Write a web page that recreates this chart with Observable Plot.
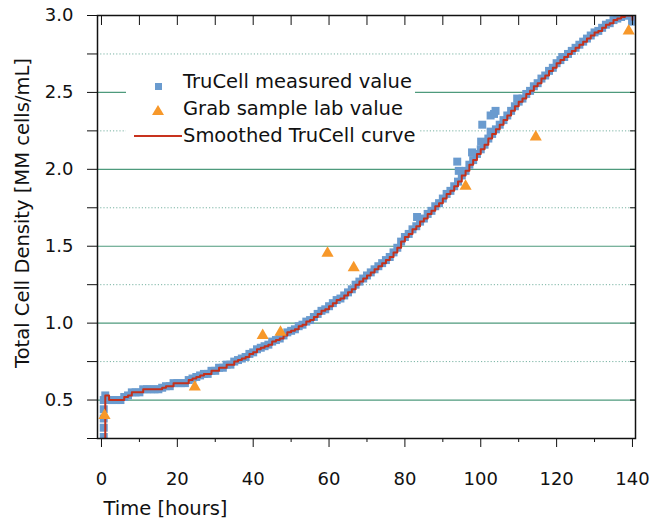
<!DOCTYPE html>
<html>
<head>
<meta charset="utf-8">
<script src="https://cdn.jsdelivr.net/npm/d3@7"></script>
<script src="https://cdn.jsdelivr.net/npm/@observablehq/plot@0.6"></script>
<style>
  html, body { margin: 0; padding: 0; background: #fff; }
  #wrap { position: relative; width: 652px; height: 525px; font-family: "DejaVu Sans", sans-serif; }
  .row { position: absolute; left: 126px; height: 27px; background: #fff; font-size: 19.5px; color: #111; white-space: nowrap; }
  .row .txt { position: absolute; left: 57px; top: 50%; transform: translateY(-50%); padding-right: 3px; background: #fff; }
  .sq { position: absolute; left: 28.5px; width: 7px; height: 7px; background: #6a9bcf; }
  .tri { position: absolute; left: 26px; width: 0; height: 0; border-left: 6px solid transparent; border-right: 6px solid transparent; border-bottom: 10px solid #f7982a; }
  .ln { position: absolute; left: 8px; width: 48px; height: 0; border-top: 2px solid #c8321e; }
</style>
</head>
<body>
<div id="wrap"></div>
<script>
// Smoothed TruCell curve (hourly samples)
const hours = [0.9, 1, 2, 3, 4, 5, 6, 7, 8, 9, 10, 11, 12, 13, 14, 15, 16, 17, 18, 19, 20,
  21, 22, 23, 24, 25, 26, 27, 28, 29, 30, 31, 32, 33, 34, 35, 36, 37, 38, 39, 40,
  41, 42, 43, 44, 45, 46, 47, 48, 49, 50, 51, 52, 53, 54, 55, 56, 57, 58, 59, 60,
  61, 62, 63, 64, 65, 66, 67, 68, 69, 70, 71, 72, 73, 74, 75, 76, 77, 78, 79, 80,
  81, 82, 83, 84, 85, 86, 87, 88, 89, 90, 91, 92, 93, 94, 95, 96, 97, 98, 99, 100,
  101, 102, 103, 104, 105, 106, 107, 108, 109, 110, 111, 112, 113, 114, 115, 116, 117, 118, 119, 120,
  121, 122, 123, 124, 125, 126, 127, 128, 129, 130, 131, 132, 133, 134, 135, 136, 137, 138, 139, 140];
const smoothed = [0.25, 0.53, 0.50, 0.50, 0.50, 0.50, 0.52, 0.53, 0.55, 0.55, 0.55,
  0.57, 0.57, 0.57, 0.57, 0.57, 0.58, 0.59, 0.59, 0.61, 0.61,
  0.61, 0.61, 0.63, 0.64, 0.65, 0.66, 0.67, 0.67, 0.69, 0.69,
  0.71, 0.71, 0.73, 0.73, 0.75, 0.76, 0.77, 0.78, 0.80, 0.81,
  0.83, 0.84, 0.85, 0.86, 0.88, 0.89, 0.90, 0.92, 0.94, 0.95,
  0.96, 0.98, 0.99, 1.01, 1.02, 1.04, 1.06, 1.08, 1.09, 1.11,
  1.13, 1.15, 1.16, 1.18, 1.20, 1.22, 1.25, 1.27, 1.29, 1.31,
  1.33, 1.35, 1.37, 1.39, 1.41, 1.43, 1.46, 1.49, 1.53, 1.56,
  1.58, 1.61, 1.63, 1.66, 1.68, 1.71, 1.73, 1.76, 1.78, 1.81,
  1.84, 1.86, 1.89, 1.92, 1.96, 1.99, 2.03, 2.06, 2.10, 2.13,
  2.16, 2.20, 2.23, 2.26, 2.29, 2.32, 2.35, 2.38, 2.41, 2.44,
  2.46, 2.49, 2.51, 2.54, 2.56, 2.59, 2.61, 2.64, 2.66, 2.69,
  2.71, 2.73, 2.75, 2.77, 2.79, 2.81, 2.83, 2.85, 2.87, 2.89,
  2.90, 2.92, 2.94, 2.95, 2.97, 2.98, 2.99, 3.00, 3.00, 2.97];

const extraTimes  = [0.6, 0.6, 0.6, 0.6, 0.6, 83.2, 93.8, 94.2, 97.7, 100.1, 100.4, 100.8, 102.6, 102.6, 103.5, 103.9, 109.6, 121.5, 139.9];
const extraValues = [0.26, 0.32, 0.38, 0.44, 0.50, 1.69, 2.05, 1.99, 2.11, 2.18, 2.29, 2.17, 2.35, 2.245, 2.36, 2.38, 2.46, 2.73, 2.96];

// Grab sample lab values
const grabTimes  = [0.8, 24.6, 42.5, 47.2, 59.6, 66.5, 96.0, 114.5, 139.0];
const grabValues = [0.40, 0.585, 0.92, 0.94, 1.455, 1.36, 1.89, 2.21, 2.90];

// Tick values
const xMajor = [0, 20, 40, 60, 80, 100, 120, 140];
const xMinor = [10, 30, 50, 70, 90, 110, 130];
const yTicks = [0.25, 0.5, 0.75, 1.0, 1.25, 1.5, 1.75, 2.0, 2.25, 2.5, 2.75, 3.0];
const yMajorGrid = [0.5, 1.0, 1.5, 2.0, 2.5];
const yMinorGrid = [0.75, 1.25, 1.75, 2.25, 2.75];

const legendItems = ["TruCell measured value", "Grab sample lab value", "Smoothed TruCell curve"];

const curve = hours.map((t, i) => ({t, v: smoothed[i]}));
const measured = hours.slice(1).map((t, i) => ({t, v: smoothed[i + 1]}))
  .concat(extraTimes.map((t, i) => ({t, v: extraValues[i]})));
const grab = grabTimes.map((t, i) => ({t, v: grabValues[i]}));

const chart = Plot.plot({
  width: 652,
  height: 525,
  marginLeft: 97,
  marginRight: 17,
  marginTop: 15,
  marginBottom: 87,
  style: {fontFamily: "DejaVu Sans", fontSize: "18px", color: "#111", background: "#fff"},
  x: {domain: [-1.05, 140.8]},
  y: {domain: [0.25, 3.0]},
  marks: [
    Plot.gridY(yMinorGrid, {stroke: "#79b3a3", strokeOpacity: 1, strokeWidth: 1, strokeDasharray: "1.2,2"}),
    Plot.gridY(yMajorGrid, {stroke: "#4e9a7c", strokeOpacity: 1, strokeWidth: 1.2}),
    Plot.dot(measured, {x: "t", y: "v", symbol: "square", r: 4.5, fill: "#6a9bcf", stroke: "none", clip: true}),
    Plot.line(curve, {x: "t", y: "v", curve: "step-after", stroke: "#c4301c", strokeWidth: 2, clip: true}),
    Plot.dot(grab, {x: "t", y: "v", symbol: "triangle", r: 4.5, fill: "#f7982a", stroke: "none"}),
    Plot.axisY(yTicks, {anchor: "left", tickSize: 10, tickPadding: 14, fontSize: 18,
      tickFormat: d => (Math.abs(d * 2 - Math.round(d * 2)) < 1e-9 ? d.toFixed(1) : ""), label: null}),
    Plot.axisY(yTicks, {anchor: "right", tickSize: 6, dx: -6, fill: "none", label: null}),
    Plot.axisX(xMajor, {anchor: "bottom", tickSize: 9, tickPadding: 25, fontSize: 18, label: null}),
    Plot.axisX(xMinor, {anchor: "bottom", tickSize: 4, fill: "none", label: null}),
    Plot.axisX(xMajor.concat(xMinor), {anchor: "top", tickSize: 9, dy: 9, fill: "none", label: null}),
    Plot.frame({stroke: "#111", strokeWidth: 1.5}),
    Plot.text(["Time [hours]"], {frameAnchor: "bottom-left", dx: 6, dy: 70, textAnchor: "start", lineAnchor: "middle", fontSize: 19.5, fill: "#111"}),
    Plot.text(["Total Cell Density [MM cells/mL]"], {frameAnchor: "left", dx: -75, dy: -14, rotate: -90, textAnchor: "middle", lineAnchor: "middle", fontSize: 19.5, fill: "#111"})
  ]
});

const wrap = document.getElementById("wrap");
wrap.appendChild(chart);

const rowTops = [67, 94, 121];
const symbolHtml = [
  '<div class="sq" style="top:15.5px"></div>',
  '<div class="tri" style="top:11px"></div>',
  '<div class="ln" style="top:14px"></div>'
];
legendItems.forEach((label, i) => {
  const row = document.createElement("div");
  row.className = "row";
  row.style.top = rowTops[i] + "px";
  row.innerHTML = symbolHtml[i] + '<span class="txt">' + label + '</span>';
  wrap.appendChild(row);
  const span = row.querySelector(".txt");
  row.style.width = (57 + span.getBoundingClientRect().width) + "px";
});
</script>
</body>
</html>
